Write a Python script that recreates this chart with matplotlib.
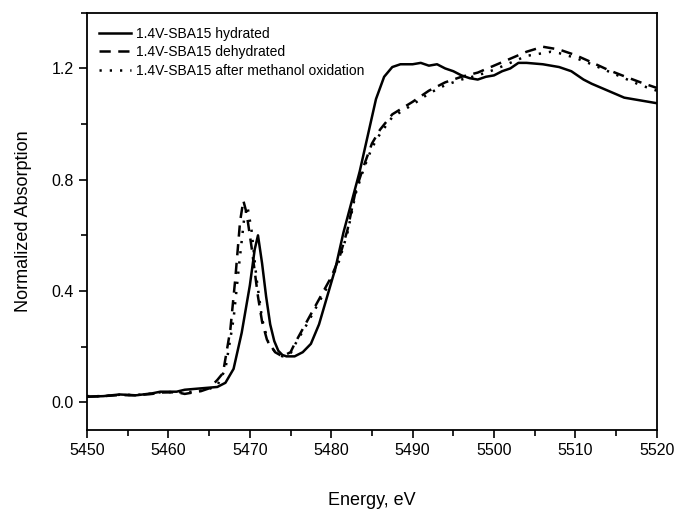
import matplotlib
matplotlib.use("Agg")
import matplotlib.pyplot as plt
from matplotlib.ticker import MultipleLocator

plt.rcParams["font.family"] = ["Liberation Sans", "DejaVu Sans"]

# ---- data (energy in eV, normalized absorption) ----
e_hyd = [5450, 5452, 5454, 5456, 5458, 5459, 5461, 5462, 5464, 5466, 5467,
         5468, 5469, 5470, 5470.6, 5471, 5471.5, 5472, 5472.5, 5473, 5473.5,
         5474, 5474.5, 5475.5, 5476.5, 5477.5, 5478.5, 5479.5, 5480.5, 5481.5,
         5482.5, 5483.5, 5484.5, 5485.5, 5486.5, 5487.5, 5488.5, 5490, 5491,
         5492, 5493, 5494, 5495, 5496, 5497, 5498, 5499, 5500, 5501, 5502,
         5503, 5504, 5506, 5508, 5509.5, 5511, 5512, 5514, 5516, 5518, 5520]
a_hyd = [0.020, 0.022, 0.028, 0.025, 0.032, 0.038, 0.038, 0.045, 0.050, 0.055,
         0.070, 0.120, 0.250, 0.420, 0.550, 0.600, 0.500, 0.380, 0.280, 0.220,
         0.185, 0.170, 0.165, 0.165, 0.180, 0.210, 0.280, 0.380, 0.480, 0.610,
         0.720, 0.830, 0.960, 1.090, 1.170, 1.205, 1.215, 1.215, 1.220, 1.210,
         1.215, 1.200, 1.190, 1.175, 1.165, 1.160, 1.170, 1.175, 1.190, 1.200,
         1.220, 1.220, 1.215, 1.205, 1.190, 1.160, 1.145, 1.120, 1.095, 1.085,
         1.075]

e_dehyd = [5450, 5452, 5454, 5456, 5458, 5459, 5461, 5462, 5464, 5465, 5466,
           5466.7, 5467.6, 5468.2, 5468.8, 5469.2, 5469.6, 5470.2, 5471, 5471.5,
           5472.1, 5473.1, 5474, 5475, 5475.5, 5477, 5478.5, 5480, 5481, 5482,
           5483, 5484, 5485, 5486, 5487.5, 5490, 5492, 5494, 5496, 5498, 5500,
           5502, 5504, 5506, 5508, 5510, 5512, 5514, 5516, 5518, 5520]
a_dehyd = [0.020, 0.022, 0.026, 0.025, 0.030, 0.035, 0.036, 0.030, 0.040,
           0.050, 0.080, 0.105, 0.260, 0.440, 0.650, 0.725, 0.680, 0.560,
           0.380, 0.290, 0.225, 0.180, 0.165, 0.180, 0.210, 0.290, 0.370,
           0.450, 0.520, 0.620, 0.760, 0.850, 0.930, 0.980, 1.035, 1.080,
           1.120, 1.150, 1.170, 1.185, 1.210, 1.235, 1.260, 1.278, 1.268,
           1.248, 1.222, 1.195, 1.172, 1.150, 1.130]

e_meoh = [5450, 5452, 5454, 5456, 5458, 5459, 5461, 5462, 5464, 5465, 5466,
          5467, 5468, 5468.7, 5469.3, 5469.7, 5470.2, 5470.8, 5471.5, 5472.3,
          5473.3, 5474, 5475, 5475.5, 5477, 5478.5, 5480, 5481, 5482, 5483,
          5484, 5485, 5486, 5487.5, 5490, 5492, 5494, 5496, 5498, 5500, 5502,
          5504, 5506, 5507, 5508, 5510, 5512, 5514, 5516, 5518, 5520]
a_meoh = [0.022, 0.022, 0.027, 0.026, 0.031, 0.036, 0.037, 0.035, 0.042,
          0.048, 0.060, 0.120, 0.300, 0.500, 0.660, 0.705, 0.620, 0.450,
          0.300, 0.210, 0.175, 0.165, 0.175, 0.205, 0.280, 0.360, 0.440,
          0.510, 0.610, 0.750, 0.840, 0.915, 0.965, 1.025, 1.070, 1.110,
          1.140, 1.160, 1.175, 1.195, 1.220, 1.245, 1.255, 1.260, 1.255,
          1.238, 1.215, 1.190, 1.165, 1.140, 1.120]

labels = ["1.4V-SBA15 hydrated", "1.4V-SBA15 dehydrated",
          "1.4V-SBA15 after methanol oxidation"]

fig = plt.figure(figsize=(6.75, 5.12), dpi=100)
ax = fig.add_axes([0.129, 0.160, 0.844, 0.815])

ax.plot(e_hyd, a_hyd, color="black", lw=1.8, label=labels[0])
ax.plot(e_dehyd, a_dehyd, color="black", lw=1.8, dashes=(4.5, 3), label=labels[1])
ax.plot(e_meoh, a_meoh, color="black", lw=1.8, dashes=(0.9, 3.2), label=labels[2])

ax.set_xlim(5450, 5520)
ax.set_ylim(-0.1, 1.4)
ax.xaxis.set_major_locator(MultipleLocator(10))
ax.xaxis.set_minor_locator(MultipleLocator(5))
ax.yaxis.set_major_locator(MultipleLocator(0.4))
ax.yaxis.set_minor_locator(MultipleLocator(0.2))
ax.yaxis.set_major_formatter(plt.FormatStrFormatter("%.1f"))
ax.tick_params(which="both", direction="out", top=False, right=False,
               labelsize=11.5, width=1.2)
ax.tick_params(which="major", length=6)
ax.tick_params(which="minor", length=4)
for s in ax.spines.values():
    s.set_linewidth(1.3)

ax.set_xlabel("Energy, eV", fontsize=13, labelpad=24)
ax.set_ylabel("Normalized Absorption", fontsize=13, labelpad=14)

ax.legend(loc="upper left", frameon=False, fontsize=10, handlelength=2.3,
          handletextpad=0.35, labelspacing=0.32, borderaxespad=0.6,
          bbox_to_anchor=(-0.003, 1.0))

fig.savefig("out.png", dpi=100)
